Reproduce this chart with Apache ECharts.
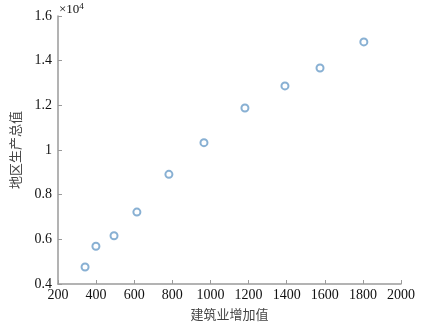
<!DOCTYPE html>
<html>
<head>
<meta charset="utf-8">
<script src="https://cdn.jsdelivr.net/npm/echarts@6/dist/echarts.min.js"></script>
<style>
html,body{margin:0;padding:0;background:#fff;}
#main{width:444px;height:326px;}
</style>
</head>
<body>
<div id="main"></div>
<script>
// 建筑业增加值 vs 地区生产总值
var buildVal=[342,399,494,614,782,966,1181,1391,1575,1805];
var gdpVal=[4760,5690,6160,7220,8910,10330,11880,12870,13670,14840];
var xName='建筑业增加值';
var yName='地区生产总值';

var pts=[];
for(var i=0;i<buildVal.length;i++){
	pts.push([buildVal[i],gdpVal[i]]);
}
var serif='"Times New Roman", "Liberation Serif", serif';
var cjk='"Noto Sans CJK SC"';
var axisCol='#9a9a9a';

var myChart=echarts.init(document.getElementById('main'));
myChart.setOption({
	animation:false,
	textStyle:{fontFamily:serif},
	grid:{left:58,right:43,top:16,bottom:42},
	xAxis:{
		type:'value',min:200,max:2000,interval:200,
		name:xName,nameLocation:'middle',nameGap:24,
		nameTextStyle:{fontFamily:cjk,fontSize:13,color:'#444'},
		axisLine:{show:true,lineStyle:{color:axisCol,width:1.5}},
		axisTick:{show:true,inside:true,length:4,lineStyle:{color:axisCol}},
		axisLabel:{fontFamily:serif,fontSize:14,color:'#111',margin:4,
			formatter:function(v){return String(v);}},
		splitLine:{show:false}
	},
	yAxis:{
		type:'value',min:4000,max:16000,interval:2000,
		name:yName,nameLocation:'middle',nameGap:36,nameRotate:90,
		nameTextStyle:{fontFamily:cjk,fontSize:13,color:'#444'},
		axisLine:{show:true,lineStyle:{color:axisCol,width:1.5}},
		axisTick:{show:true,inside:true,length:4,lineStyle:{color:axisCol}},
		axisLabel:{fontFamily:serif,fontSize:14,color:'#111',margin:6,
			formatter:function(v){return String(+(v/10000).toFixed(1));}},
		splitLine:{show:false}
	},
	graphic:[{
		type:'text',left:59,top:2,
		style:{
			text:'{a|×10}{b|4}',
			fontFamily:serif,fontSize:13,fill:'#111',
			rich:{
				a:{fontFamily:serif,fontSize:13,fill:'#111'},
				b:{fontFamily:serif,fontSize:9,fill:'#111',verticalAlign:'top',padding:[0,0,6,0]}
			}
		}
	}],
	series:[{
		type:'scatter',
		data:pts,
		symbol:'emptyCircle',
		symbolSize:7,
		itemStyle:{color:'#6a9cc8',borderWidth:1}
	}]
});
</script>
</body>
</html>
